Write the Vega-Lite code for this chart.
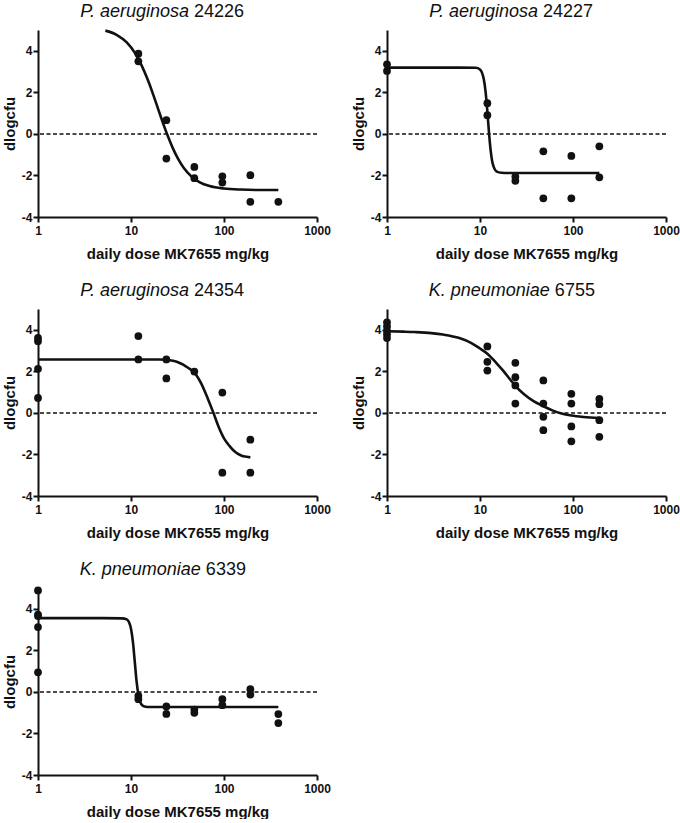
{
  "$schema": "https://vega.github.io/schema/vega-lite/v6.json",
  "padding": {"left": 2, "top": 3, "right": 0, "bottom": 0},
  "data": {"values": [
    {"strain": "24226", "kind": "title", "species": "P. aeruginosa"},
    {"strain": "24227", "kind": "title", "species": "P. aeruginosa"},
    {"strain": "24354", "kind": "title", "species": "P. aeruginosa"},
    {"strain": "6755", "kind": "title", "species": "K. pneumoniae"},
    {"strain": "6339", "kind": "title", "species": "K. pneumoniae"},

    {"strain": "24226", "kind": "obs", "dose": 12, "dlogcfu": 3.86},
    {"strain": "24226", "kind": "obs", "dose": 12, "dlogcfu": 3.49},
    {"strain": "24226", "kind": "obs", "dose": 24, "dlogcfu": 0.66},
    {"strain": "24226", "kind": "obs", "dose": 24, "dlogcfu": -1.19},
    {"strain": "24226", "kind": "obs", "dose": 48, "dlogcfu": -1.59},
    {"strain": "24226", "kind": "obs", "dose": 48, "dlogcfu": -2.13},
    {"strain": "24226", "kind": "obs", "dose": 96, "dlogcfu": -2.04},
    {"strain": "24226", "kind": "obs", "dose": 96, "dlogcfu": -2.34},
    {"strain": "24226", "kind": "obs", "dose": 192, "dlogcfu": -1.99},
    {"strain": "24226", "kind": "obs", "dose": 192, "dlogcfu": -3.27},
    {"strain": "24226", "kind": "obs", "dose": 384, "dlogcfu": -3.27},
    {"strain": "24226", "kind": "fit", "dose": 5.3, "dlogcfu": 4.97},
    {"strain": "24226", "kind": "fit", "dose": 7, "dlogcfu": 4.77},
    {"strain": "24226", "kind": "fit", "dose": 9, "dlogcfu": 4.40},
    {"strain": "24226", "kind": "fit", "dose": 11, "dlogcfu": 3.90},
    {"strain": "24226", "kind": "fit", "dose": 13, "dlogcfu": 3.30},
    {"strain": "24226", "kind": "fit", "dose": 15, "dlogcfu": 2.65},
    {"strain": "24226", "kind": "fit", "dose": 17, "dlogcfu": 2.00},
    {"strain": "24226", "kind": "fit", "dose": 19, "dlogcfu": 1.37},
    {"strain": "24226", "kind": "fit", "dose": 21, "dlogcfu": 0.80},
    {"strain": "24226", "kind": "fit", "dose": 23, "dlogcfu": 0.30},
    {"strain": "24226", "kind": "fit", "dose": 25, "dlogcfu": -0.13},
    {"strain": "24226", "kind": "fit", "dose": 28, "dlogcfu": -0.66},
    {"strain": "24226", "kind": "fit", "dose": 32, "dlogcfu": -1.19},
    {"strain": "24226", "kind": "fit", "dose": 37, "dlogcfu": -1.64},
    {"strain": "24226", "kind": "fit", "dose": 45, "dlogcfu": -2.06},
    {"strain": "24226", "kind": "fit", "dose": 55, "dlogcfu": -2.33},
    {"strain": "24226", "kind": "fit", "dose": 70, "dlogcfu": -2.51},
    {"strain": "24226", "kind": "fit", "dose": 100, "dlogcfu": -2.63},
    {"strain": "24226", "kind": "fit", "dose": 150, "dlogcfu": -2.68},
    {"strain": "24226", "kind": "fit", "dose": 250, "dlogcfu": -2.70},
    {"strain": "24226", "kind": "fit", "dose": 384, "dlogcfu": -2.70},

    {"strain": "24227", "kind": "obs", "dose": 1, "dlogcfu": 3.35},
    {"strain": "24227", "kind": "obs", "dose": 1, "dlogcfu": 3.03},
    {"strain": "24227", "kind": "obs", "dose": 12, "dlogcfu": 1.48},
    {"strain": "24227", "kind": "obs", "dose": 12, "dlogcfu": 0.90},
    {"strain": "24227", "kind": "obs", "dose": 24, "dlogcfu": -2.06},
    {"strain": "24227", "kind": "obs", "dose": 24, "dlogcfu": -2.26},
    {"strain": "24227", "kind": "obs", "dose": 48, "dlogcfu": -0.84},
    {"strain": "24227", "kind": "obs", "dose": 48, "dlogcfu": -3.10},
    {"strain": "24227", "kind": "obs", "dose": 96, "dlogcfu": -1.06},
    {"strain": "24227", "kind": "obs", "dose": 96, "dlogcfu": -3.10},
    {"strain": "24227", "kind": "obs", "dose": 192, "dlogcfu": -0.60},
    {"strain": "24227", "kind": "obs", "dose": 192, "dlogcfu": -2.09},
    {"strain": "24227", "kind": "fit", "dose": 1, "dlogcfu": 3.19},
    {"strain": "24227", "kind": "fit", "dose": 5, "dlogcfu": 3.19},
    {"strain": "24227", "kind": "fit", "dose": 9, "dlogcfu": 3.18},
    {"strain": "24227", "kind": "fit", "dose": 10, "dlogcfu": 3.10},
    {"strain": "24227", "kind": "fit", "dose": 10.5, "dlogcfu": 2.95},
    {"strain": "24227", "kind": "fit", "dose": 11, "dlogcfu": 2.62},
    {"strain": "24227", "kind": "fit", "dose": 11.5, "dlogcfu": 2.00},
    {"strain": "24227", "kind": "fit", "dose": 12, "dlogcfu": 1.08},
    {"strain": "24227", "kind": "fit", "dose": 12.5, "dlogcfu": 0.05},
    {"strain": "24227", "kind": "fit", "dose": 13, "dlogcfu": -0.77},
    {"strain": "24227", "kind": "fit", "dose": 13.5, "dlogcfu": -1.30},
    {"strain": "24227", "kind": "fit", "dose": 14, "dlogcfu": -1.58},
    {"strain": "24227", "kind": "fit", "dose": 15, "dlogcfu": -1.80},
    {"strain": "24227", "kind": "fit", "dose": 17, "dlogcfu": -1.87},
    {"strain": "24227", "kind": "fit", "dose": 20, "dlogcfu": -1.88},
    {"strain": "24227", "kind": "fit", "dose": 50, "dlogcfu": -1.88},
    {"strain": "24227", "kind": "fit", "dose": 192, "dlogcfu": -1.88},

    {"strain": "24354", "kind": "obs", "dose": 1, "dlogcfu": 3.61},
    {"strain": "24354", "kind": "obs", "dose": 1, "dlogcfu": 3.45},
    {"strain": "24354", "kind": "obs", "dose": 1, "dlogcfu": 2.12},
    {"strain": "24354", "kind": "obs", "dose": 1, "dlogcfu": 0.72},
    {"strain": "24354", "kind": "obs", "dose": 12, "dlogcfu": 3.70},
    {"strain": "24354", "kind": "obs", "dose": 12, "dlogcfu": 2.57},
    {"strain": "24354", "kind": "obs", "dose": 24, "dlogcfu": 2.57},
    {"strain": "24354", "kind": "obs", "dose": 24, "dlogcfu": 1.66},
    {"strain": "24354", "kind": "obs", "dose": 48, "dlogcfu": 1.99},
    {"strain": "24354", "kind": "obs", "dose": 96, "dlogcfu": 0.98},
    {"strain": "24354", "kind": "obs", "dose": 96, "dlogcfu": -2.88},
    {"strain": "24354", "kind": "obs", "dose": 192, "dlogcfu": -1.29},
    {"strain": "24354", "kind": "obs", "dose": 192, "dlogcfu": -2.88},
    {"strain": "24354", "kind": "fit", "dose": 1, "dlogcfu": 2.57},
    {"strain": "24354", "kind": "fit", "dose": 5, "dlogcfu": 2.57},
    {"strain": "24354", "kind": "fit", "dose": 10, "dlogcfu": 2.57},
    {"strain": "24354", "kind": "fit", "dose": 20, "dlogcfu": 2.57},
    {"strain": "24354", "kind": "fit", "dose": 24, "dlogcfu": 2.56},
    {"strain": "24354", "kind": "fit", "dose": 28, "dlogcfu": 2.51},
    {"strain": "24354", "kind": "fit", "dose": 32, "dlogcfu": 2.44},
    {"strain": "24354", "kind": "fit", "dose": 36, "dlogcfu": 2.33},
    {"strain": "24354", "kind": "fit", "dose": 41, "dlogcfu": 2.17},
    {"strain": "24354", "kind": "fit", "dose": 48, "dlogcfu": 1.94},
    {"strain": "24354", "kind": "fit", "dose": 57, "dlogcfu": 1.41},
    {"strain": "24354", "kind": "fit", "dose": 67, "dlogcfu": 0.68},
    {"strain": "24354", "kind": "fit", "dose": 77, "dlogcfu": 0.0},
    {"strain": "24354", "kind": "fit", "dose": 87, "dlogcfu": -0.64},
    {"strain": "24354", "kind": "fit", "dose": 102, "dlogcfu": -1.29},
    {"strain": "24354", "kind": "fit", "dose": 115, "dlogcfu": -1.60},
    {"strain": "24354", "kind": "fit", "dose": 126, "dlogcfu": -1.80},
    {"strain": "24354", "kind": "fit", "dose": 140, "dlogcfu": -1.96},
    {"strain": "24354", "kind": "fit", "dose": 155, "dlogcfu": -2.06},
    {"strain": "24354", "kind": "fit", "dose": 175, "dlogcfu": -2.11},
    {"strain": "24354", "kind": "fit", "dose": 192, "dlogcfu": -2.14},

    {"strain": "6755", "kind": "obs", "dose": 1, "dlogcfu": 4.36},
    {"strain": "6755", "kind": "obs", "dose": 1, "dlogcfu": 4.16},
    {"strain": "6755", "kind": "obs", "dose": 1, "dlogcfu": 3.95},
    {"strain": "6755", "kind": "obs", "dose": 1, "dlogcfu": 3.78},
    {"strain": "6755", "kind": "obs", "dose": 1, "dlogcfu": 3.60},
    {"strain": "6755", "kind": "obs", "dose": 12, "dlogcfu": 3.20},
    {"strain": "6755", "kind": "obs", "dose": 12, "dlogcfu": 2.46},
    {"strain": "6755", "kind": "obs", "dose": 12, "dlogcfu": 2.04},
    {"strain": "6755", "kind": "obs", "dose": 24, "dlogcfu": 2.41},
    {"strain": "6755", "kind": "obs", "dose": 24, "dlogcfu": 1.72},
    {"strain": "6755", "kind": "obs", "dose": 24, "dlogcfu": 1.32},
    {"strain": "6755", "kind": "obs", "dose": 24, "dlogcfu": 0.45},
    {"strain": "6755", "kind": "obs", "dose": 48, "dlogcfu": 1.56},
    {"strain": "6755", "kind": "obs", "dose": 48, "dlogcfu": 0.45},
    {"strain": "6755", "kind": "obs", "dose": 48, "dlogcfu": -0.19},
    {"strain": "6755", "kind": "obs", "dose": 48, "dlogcfu": -0.83},
    {"strain": "6755", "kind": "obs", "dose": 96, "dlogcfu": 0.92},
    {"strain": "6755", "kind": "obs", "dose": 96, "dlogcfu": 0.45},
    {"strain": "6755", "kind": "obs", "dose": 96, "dlogcfu": -0.65},
    {"strain": "6755", "kind": "obs", "dose": 96, "dlogcfu": -1.37},
    {"strain": "6755", "kind": "obs", "dose": 192, "dlogcfu": 0.68},
    {"strain": "6755", "kind": "obs", "dose": 192, "dlogcfu": 0.42},
    {"strain": "6755", "kind": "obs", "dose": 192, "dlogcfu": -0.35},
    {"strain": "6755", "kind": "obs", "dose": 192, "dlogcfu": -1.15},
    {"strain": "6755", "kind": "fit", "dose": 1, "dlogcfu": 3.93},
    {"strain": "6755", "kind": "fit", "dose": 1.5, "dlogcfu": 3.91},
    {"strain": "6755", "kind": "fit", "dose": 2, "dlogcfu": 3.89},
    {"strain": "6755", "kind": "fit", "dose": 3, "dlogcfu": 3.84},
    {"strain": "6755", "kind": "fit", "dose": 4, "dlogcfu": 3.77},
    {"strain": "6755", "kind": "fit", "dose": 6, "dlogcfu": 3.60},
    {"strain": "6755", "kind": "fit", "dose": 8, "dlogcfu": 3.37},
    {"strain": "6755", "kind": "fit", "dose": 10, "dlogcfu": 3.10},
    {"strain": "6755", "kind": "fit", "dose": 12, "dlogcfu": 2.85},
    {"strain": "6755", "kind": "fit", "dose": 15, "dlogcfu": 2.40},
    {"strain": "6755", "kind": "fit", "dose": 18, "dlogcfu": 2.00},
    {"strain": "6755", "kind": "fit", "dose": 21, "dlogcfu": 1.62},
    {"strain": "6755", "kind": "fit", "dose": 24, "dlogcfu": 1.30},
    {"strain": "6755", "kind": "fit", "dose": 30, "dlogcfu": 0.88},
    {"strain": "6755", "kind": "fit", "dose": 38, "dlogcfu": 0.55},
    {"strain": "6755", "kind": "fit", "dose": 48, "dlogcfu": 0.32},
    {"strain": "6755", "kind": "fit", "dose": 60, "dlogcfu": 0.12},
    {"strain": "6755", "kind": "fit", "dose": 75, "dlogcfu": -0.03},
    {"strain": "6755", "kind": "fit", "dose": 96, "dlogcfu": -0.13},
    {"strain": "6755", "kind": "fit", "dose": 130, "dlogcfu": -0.20},
    {"strain": "6755", "kind": "fit", "dose": 192, "dlogcfu": -0.25},

    {"strain": "6339", "kind": "obs", "dose": 1, "dlogcfu": 4.88},
    {"strain": "6339", "kind": "obs", "dose": 1, "dlogcfu": 3.72},
    {"strain": "6339", "kind": "obs", "dose": 1, "dlogcfu": 3.65},
    {"strain": "6339", "kind": "obs", "dose": 1, "dlogcfu": 3.12},
    {"strain": "6339", "kind": "obs", "dose": 1, "dlogcfu": 0.94},
    {"strain": "6339", "kind": "obs", "dose": 12, "dlogcfu": -0.19},
    {"strain": "6339", "kind": "obs", "dose": 12, "dlogcfu": -0.35},
    {"strain": "6339", "kind": "obs", "dose": 24, "dlogcfu": -0.70},
    {"strain": "6339", "kind": "obs", "dose": 24, "dlogcfu": -1.06},
    {"strain": "6339", "kind": "obs", "dose": 48, "dlogcfu": -0.85},
    {"strain": "6339", "kind": "obs", "dose": 48, "dlogcfu": -1.01},
    {"strain": "6339", "kind": "obs", "dose": 96, "dlogcfu": -0.35},
    {"strain": "6339", "kind": "obs", "dose": 96, "dlogcfu": -0.64},
    {"strain": "6339", "kind": "obs", "dose": 192, "dlogcfu": 0.13},
    {"strain": "6339", "kind": "obs", "dose": 192, "dlogcfu": -0.13},
    {"strain": "6339", "kind": "obs", "dose": 384, "dlogcfu": -1.07},
    {"strain": "6339", "kind": "obs", "dose": 384, "dlogcfu": -1.50},
    {"strain": "6339", "kind": "fit", "dose": 1, "dlogcfu": 3.55},
    {"strain": "6339", "kind": "fit", "dose": 5, "dlogcfu": 3.55},
    {"strain": "6339", "kind": "fit", "dose": 8, "dlogcfu": 3.54},
    {"strain": "6339", "kind": "fit", "dose": 9, "dlogcfu": 3.49},
    {"strain": "6339", "kind": "fit", "dose": 9.5, "dlogcfu": 3.36},
    {"strain": "6339", "kind": "fit", "dose": 10, "dlogcfu": 3.04},
    {"strain": "6339", "kind": "fit", "dose": 10.5, "dlogcfu": 2.38},
    {"strain": "6339", "kind": "fit", "dose": 11, "dlogcfu": 1.41},
    {"strain": "6339", "kind": "fit", "dose": 11.5, "dlogcfu": 0.48},
    {"strain": "6339", "kind": "fit", "dose": 12, "dlogcfu": -0.13},
    {"strain": "6339", "kind": "fit", "dose": 12.5, "dlogcfu": -0.46},
    {"strain": "6339", "kind": "fit", "dose": 13, "dlogcfu": -0.61},
    {"strain": "6339", "kind": "fit", "dose": 14, "dlogcfu": -0.70},
    {"strain": "6339", "kind": "fit", "dose": 16, "dlogcfu": -0.73},
    {"strain": "6339", "kind": "fit", "dose": 50, "dlogcfu": -0.73},
    {"strain": "6339", "kind": "fit", "dose": 384, "dlogcfu": -0.73}
  ]},
  "columns": 2,
  "spacing": {"row": 21, "column": 20},
  "concat": [
    {
      "width": 279, "height": 187,
      "transform": [{"filter": "datum.strain === '24226'"}],
      "layer": [
        {"transform": [{"filter": "datum.kind === 'title'"}], "mark": {"type": "rule", "strokeDash": [4, 2.5], "strokeWidth": 1.5, "color": "#111"}, "encoding": {"y": {"datum": 0, "scale": {"domain": [-4, 5], "nice": false, "zero": false}}}},
        {"transform": [{"filter": "datum.kind === 'obs'"}], "mark": {"type": "point", "filled": true, "shape": "circle", "size": 60, "opacity": 1, "color": "#111"},
         "encoding": {
           "x": {"field": "dose", "type": "quantitative", "scale": {"type": "log", "domain": [1, 1000], "nice": false}, "axis": {"values": [1, 10, 100, 1000], "format": "d", "title": "daily dose MK7655 mg/kg"}},
           "y": {"field": "dlogcfu", "type": "quantitative", "scale": {"domain": [-4, 5], "nice": false, "zero": false}, "axis": {"values": [-4, -2, 0, 2, 4], "labelExpr": "datum.value + ''", "title": "dlogcfu"}}}},
        {"transform": [{"filter": "datum.kind === 'fit'"}], "mark": {"type": "line", "interpolate": "monotone", "strokeWidth": 2.6, "color": "#111"},
         "encoding": {"x": {"field": "dose", "type": "quantitative"}, "y": {"field": "dlogcfu", "type": "quantitative"}}},
        {"transform": [{"filter": "datum.kind === 'title'"}], "mark": {"type": "text", "align": "right", "baseline": "alphabetic", "fontStyle": "italic", "fontSize": 18, "font": "Liberation Sans", "dx": -2.5, "color": "#111"},
         "encoding": {"x": {"datum": 44.7}, "y": {"datum": 5.62}, "text": {"field": "species"}}},
        {"transform": [{"filter": "datum.kind === 'title'"}], "mark": {"type": "text", "align": "left", "baseline": "alphabetic", "fontSize": 18, "font": "Liberation Sans", "dx": 2.5, "color": "#111"},
         "encoding": {"x": {"datum": 44.7}, "y": {"datum": 5.62}, "text": {"field": "strain"}}}
      ]
    },
    {
      "width": 279, "height": 187,
      "transform": [{"filter": "datum.strain === '24227'"}],
      "layer": [
        {"transform": [{"filter": "datum.kind === 'title'"}], "mark": {"type": "rule", "strokeDash": [4, 2.5], "strokeWidth": 1.5, "color": "#111"}, "encoding": {"y": {"datum": 0, "scale": {"domain": [-4, 5], "nice": false, "zero": false}}}},
        {"transform": [{"filter": "datum.kind === 'obs'"}], "mark": {"type": "point", "filled": true, "shape": "circle", "size": 60, "opacity": 1, "color": "#111"},
         "encoding": {
           "x": {"field": "dose", "type": "quantitative", "scale": {"type": "log", "domain": [1, 1000], "nice": false}, "axis": {"values": [1, 10, 100, 1000], "format": "d", "title": "daily dose MK7655 mg/kg"}},
           "y": {"field": "dlogcfu", "type": "quantitative", "scale": {"domain": [-4, 5], "nice": false, "zero": false}, "axis": {"values": [-4, -2, 0, 2, 4], "labelExpr": "datum.value + ''", "title": "dlogcfu"}}}},
        {"transform": [{"filter": "datum.kind === 'fit'"}], "mark": {"type": "line", "interpolate": "monotone", "strokeWidth": 2.6, "color": "#111"},
         "encoding": {"x": {"field": "dose", "type": "quantitative"}, "y": {"field": "dlogcfu", "type": "quantitative"}}},
        {"transform": [{"filter": "datum.kind === 'title'"}], "mark": {"type": "text", "align": "right", "baseline": "alphabetic", "fontStyle": "italic", "fontSize": 18, "font": "Liberation Sans", "dx": -2.5, "color": "#111"},
         "encoding": {"x": {"datum": 44.7}, "y": {"datum": 5.62}, "text": {"field": "species"}}},
        {"transform": [{"filter": "datum.kind === 'title'"}], "mark": {"type": "text", "align": "left", "baseline": "alphabetic", "fontSize": 18, "font": "Liberation Sans", "dx": 2.5, "color": "#111"},
         "encoding": {"x": {"datum": 44.7}, "y": {"datum": 5.62}, "text": {"field": "strain"}}}
      ]
    },
    {
      "width": 279, "height": 187,
      "transform": [{"filter": "datum.strain === '24354'"}],
      "layer": [
        {"transform": [{"filter": "datum.kind === 'title'"}], "mark": {"type": "rule", "strokeDash": [4, 2.5], "strokeWidth": 1.5, "color": "#111"}, "encoding": {"y": {"datum": 0, "scale": {"domain": [-4, 5], "nice": false, "zero": false}}}},
        {"transform": [{"filter": "datum.kind === 'obs'"}], "mark": {"type": "point", "filled": true, "shape": "circle", "size": 60, "opacity": 1, "color": "#111"},
         "encoding": {
           "x": {"field": "dose", "type": "quantitative", "scale": {"type": "log", "domain": [1, 1000], "nice": false}, "axis": {"values": [1, 10, 100, 1000], "format": "d", "title": "daily dose MK7655 mg/kg"}},
           "y": {"field": "dlogcfu", "type": "quantitative", "scale": {"domain": [-4, 5], "nice": false, "zero": false}, "axis": {"values": [-4, -2, 0, 2, 4], "labelExpr": "datum.value + ''", "title": "dlogcfu"}}}},
        {"transform": [{"filter": "datum.kind === 'fit'"}], "mark": {"type": "line", "interpolate": "monotone", "strokeWidth": 2.6, "color": "#111"},
         "encoding": {"x": {"field": "dose", "type": "quantitative"}, "y": {"field": "dlogcfu", "type": "quantitative"}}},
        {"transform": [{"filter": "datum.kind === 'title'"}], "mark": {"type": "text", "align": "right", "baseline": "alphabetic", "fontStyle": "italic", "fontSize": 18, "font": "Liberation Sans", "dx": -2.5, "color": "#111"},
         "encoding": {"x": {"datum": 44.7}, "y": {"datum": 5.62}, "text": {"field": "species"}}},
        {"transform": [{"filter": "datum.kind === 'title'"}], "mark": {"type": "text", "align": "left", "baseline": "alphabetic", "fontSize": 18, "font": "Liberation Sans", "dx": 2.5, "color": "#111"},
         "encoding": {"x": {"datum": 44.7}, "y": {"datum": 5.62}, "text": {"field": "strain"}}}
      ]
    },
    {
      "width": 279, "height": 187,
      "transform": [{"filter": "datum.strain === '6755'"}],
      "layer": [
        {"transform": [{"filter": "datum.kind === 'title'"}], "mark": {"type": "rule", "strokeDash": [4, 2.5], "strokeWidth": 1.5, "color": "#111"}, "encoding": {"y": {"datum": 0, "scale": {"domain": [-4, 5], "nice": false, "zero": false}}}},
        {"transform": [{"filter": "datum.kind === 'obs'"}], "mark": {"type": "point", "filled": true, "shape": "circle", "size": 60, "opacity": 1, "color": "#111"},
         "encoding": {
           "x": {"field": "dose", "type": "quantitative", "scale": {"type": "log", "domain": [1, 1000], "nice": false}, "axis": {"values": [1, 10, 100, 1000], "format": "d", "title": "daily dose MK7655 mg/kg"}},
           "y": {"field": "dlogcfu", "type": "quantitative", "scale": {"domain": [-4, 5], "nice": false, "zero": false}, "axis": {"values": [-4, -2, 0, 2, 4], "labelExpr": "datum.value + ''", "title": "dlogcfu"}}}},
        {"transform": [{"filter": "datum.kind === 'fit'"}], "mark": {"type": "line", "interpolate": "monotone", "strokeWidth": 2.6, "color": "#111"},
         "encoding": {"x": {"field": "dose", "type": "quantitative"}, "y": {"field": "dlogcfu", "type": "quantitative"}}},
        {"transform": [{"filter": "datum.kind === 'title'"}], "mark": {"type": "text", "align": "right", "baseline": "alphabetic", "fontStyle": "italic", "fontSize": 18, "font": "Liberation Sans", "dx": -2.5, "color": "#111"},
         "encoding": {"x": {"datum": 60}, "y": {"datum": 5.62}, "text": {"field": "species"}}},
        {"transform": [{"filter": "datum.kind === 'title'"}], "mark": {"type": "text", "align": "left", "baseline": "alphabetic", "fontSize": 18, "font": "Liberation Sans", "dx": 2.5, "color": "#111"},
         "encoding": {"x": {"datum": 60}, "y": {"datum": 5.62}, "text": {"field": "strain"}}}
      ]
    },
    {
      "width": 279, "height": 187,
      "transform": [{"filter": "datum.strain === '6339'"}],
      "layer": [
        {"transform": [{"filter": "datum.kind === 'title'"}], "mark": {"type": "rule", "strokeDash": [4, 2.5], "strokeWidth": 1.5, "color": "#111"}, "encoding": {"y": {"datum": 0, "scale": {"domain": [-4, 5], "nice": false, "zero": false}}}},
        {"transform": [{"filter": "datum.kind === 'obs'"}], "mark": {"type": "point", "filled": true, "shape": "circle", "size": 60, "opacity": 1, "color": "#111"},
         "encoding": {
           "x": {"field": "dose", "type": "quantitative", "scale": {"type": "log", "domain": [1, 1000], "nice": false}, "axis": {"values": [1, 10, 100, 1000], "format": "d", "title": "daily dose MK7655 mg/kg"}},
           "y": {"field": "dlogcfu", "type": "quantitative", "scale": {"domain": [-4, 5], "nice": false, "zero": false}, "axis": {"values": [-4, -2, 0, 2, 4], "labelExpr": "datum.value + ''", "title": "dlogcfu"}}}},
        {"transform": [{"filter": "datum.kind === 'fit'"}], "mark": {"type": "line", "interpolate": "monotone", "strokeWidth": 2.6, "color": "#111"},
         "encoding": {"x": {"field": "dose", "type": "quantitative"}, "y": {"field": "dlogcfu", "type": "quantitative"}}},
        {"transform": [{"filter": "datum.kind === 'title'"}], "mark": {"type": "text", "align": "right", "baseline": "alphabetic", "fontStyle": "italic", "fontSize": 18, "font": "Liberation Sans", "dx": -2.5, "color": "#111"},
         "encoding": {"x": {"datum": 60}, "y": {"datum": 5.62}, "text": {"field": "species"}}},
        {"transform": [{"filter": "datum.kind === 'title'"}], "mark": {"type": "text", "align": "left", "baseline": "alphabetic", "fontSize": 18, "font": "Liberation Sans", "dx": 2.5, "color": "#111"},
         "encoding": {"x": {"datum": 60}, "y": {"datum": 5.62}, "text": {"field": "strain"}}}
      ]
    }
  ],
  "config": {
    "view": {"stroke": null},
    "axis": {
      "grid": false,
      "domainColor": "#111", "domainWidth": 2,
      "tickColor": "#111", "tickWidth": 2, "tickSize": 5,
      "labelFont": "Liberation Sans", "labelFontWeight": "bold", "labelFontSize": 12, "labelColor": "#111",
      "titleFont": "Liberation Sans", "titleFontWeight": "bold", "titleFontSize": 15, "titleColor": "#111"
    },
    "axisX": {"labelPadding": 3, "titlePadding": 10, "labelFlush": false},
    "axisY": {"titlePadding": 4, "labelPadding": 1}
  }
}
